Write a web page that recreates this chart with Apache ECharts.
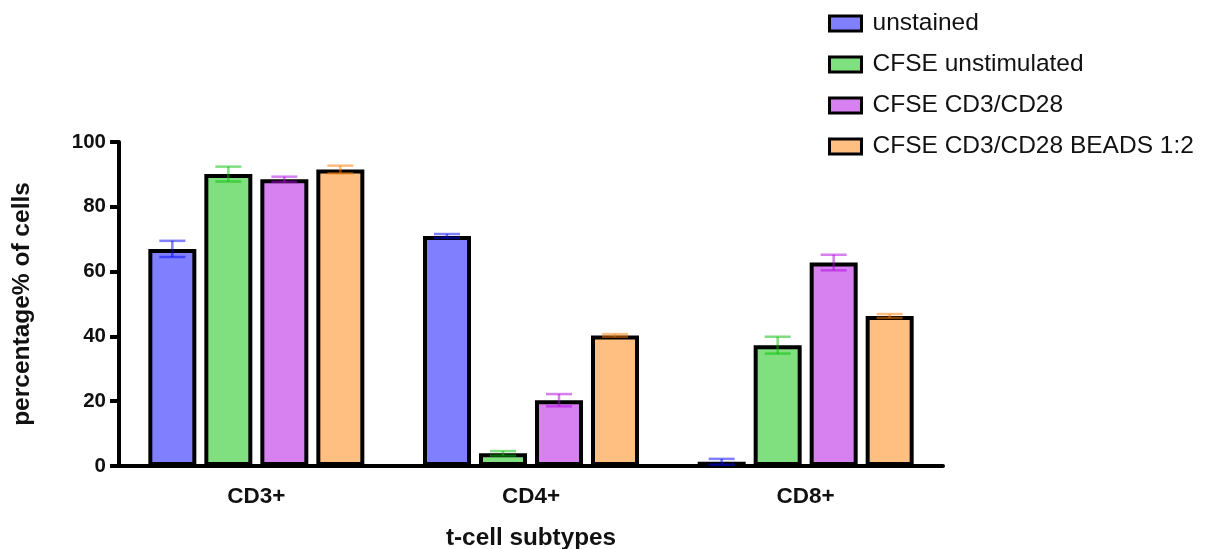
<!DOCTYPE html>
<html>
<head>
<meta charset="utf-8">
<script src="https://cdn.jsdelivr.net/npm/echarts@6/dist/echarts.min.js"></script>
<style>
  html, body { margin: 0; padding: 0; background: #fff; }
  #chart { width: 1206px; height: 549px; }
</style>
</head>
<body>
<div id="chart"></div>
<script>
// T-cell subtype composition per staining condition (mean ± SD, % of cells)
const categories = ['CD3+', 'CD4+', 'CD8+'];
const seriesNames = ['unstained', 'CFSE unstimulated', 'CFSE CD3/CD28', 'CFSE CD3/CD28 BEADS 1:2'];

const unstainedMean = [67.0, 71.0, 1.3];
const unstainedSD   = [2.5, 0.6, 0.9];
const unstimMean    = [90.1, 3.9, 37.3];
const unstimSD      = [2.3, 0.7, 2.6];
const cd3cd28Mean   = [88.5, 20.3, 62.8];
const cd3cd28SD     = [0.8, 1.9, 2.4];
const beadsMean     = [91.5, 40.3, 46.3];
const beadsSD       = [1.2, 0.4, 0.6];

const yTicks = [0, 20, 40, 60, 80, 100];

const means = [unstainedMean, unstimMean, cd3cd28Mean, beadsMean];
const sds = [unstainedSD, unstimSD, cd3cd28SD, beadsSD];

const fills = ['#8080ff', '#80e080', '#d781f0', '#ffbf80'];
const errColors = ['rgba(0,0,255,0.5)', 'rgba(0,190,0,0.5)', 'rgba(175,0,225,0.5)', 'rgba(255,125,0,0.5)'];

const BAR_W = 48;
const BAR_GAP = 8;
const FONT = '"Liberation Sans", Arial, Helvetica, sans-serif';

const chart = echarts.init(document.getElementById('chart'));

const barSeries = seriesNames.map((name, i) => ({
  name: name,
  type: 'bar',
  data: means[i],
  barWidth: BAR_W,
  barGap: (BAR_GAP / BAR_W * 100) + '%',
  itemStyle: { color: fills[i], borderColor: '#000', borderWidth: 4 },
  z: 2
}));

// error bars (mean ± SD) drawn over each bar of the group
const errSeries = seriesNames.map((name, i) => ({
  type: 'custom',
  z: 5,
  silent: true,
  data: categories.map((c, k) => [k, means[i][k], sds[i][k]]),
  renderItem: function (params, api) {
    const k = api.value(0), m = api.value(1), s = api.value(2);
    const offset = (i - 1.5) * (BAR_W + BAR_GAP);
    const top = api.coord([k, m + s]);
    const bot = api.coord([k, Math.max(m - s, 0)]);
    const x = top[0] + offset;
    const half = 13;
    const style = { stroke: errColors[i], lineWidth: 2.5, fill: null };
    return {
      type: 'group',
      children: [
        { type: 'line', shape: { x1: x, y1: top[1], x2: x, y2: bot[1] }, style: style },
        { type: 'line', shape: { x1: x - half, y1: top[1], x2: x + half, y2: top[1] }, style: style },
        { type: 'line', shape: { x1: x - half, y1: bot[1], x2: x + half, y2: bot[1] }, style: style }
      ]
    };
  }
}));

chart.setOption({
  animation: false,
  backgroundColor: '#fff',
  textStyle: { fontFamily: FONT },
  legend: {
    data: seriesNames,
    orient: 'vertical',
    left: 823,
    top: 6,
    icon: 'rect',
    itemWidth: 32,
    itemHeight: 15,
    itemGap: 16,
    itemStyle: { borderColor: '#000', borderWidth: 3 },
    textStyle: { fontSize: 24.5, color: '#111', fontFamily: FONT, lineHeight: 24, padding: [0, 0, 0, 6] }
  },
  grid: { left: 119, right: 263, top: 142, bottom: 83, containLabel: false, outerBoundsMode: 'none' },
  xAxis: {
    type: 'category',
    data: categories,
    name: 't-cell subtypes',
    nameLocation: 'middle',
    nameGap: 60,
    nameTextStyle: { fontSize: 24.3, fontWeight: 'bold', color: '#111', fontFamily: FONT },
    axisLine: { lineStyle: { color: '#000', width: 4 } },
    axisTick: { alignWithLabel: true, length: 5, lineStyle: { color: '#000', width: 4 } },
    axisLabel: { fontSize: 22.5, fontWeight: 'bold', color: '#111', margin: 19, fontFamily: FONT }
  },
  yAxis: {
    type: 'value',
    min: yTicks[0],
    max: yTicks[yTicks.length - 1],
    interval: 20,
    name: 'percentage% of cells',
    nameLocation: 'middle',
    nameGap: 84,
    nameTextStyle: { fontSize: 24.5, fontWeight: 'bold', color: '#111', fontFamily: FONT },
    axisLine: { show: true, lineStyle: { color: '#000', width: 4 } },
    axisTick: { show: true, length: 9, lineStyle: { color: '#000', width: 4 } },
    splitLine: { show: false },
    axisLabel: { fontSize: 20.5, fontWeight: 'bold', color: '#111', margin: 13, fontFamily: FONT }
  },
  series: barSeries.concat(errSeries)
});
</script>
</body>
</html>
